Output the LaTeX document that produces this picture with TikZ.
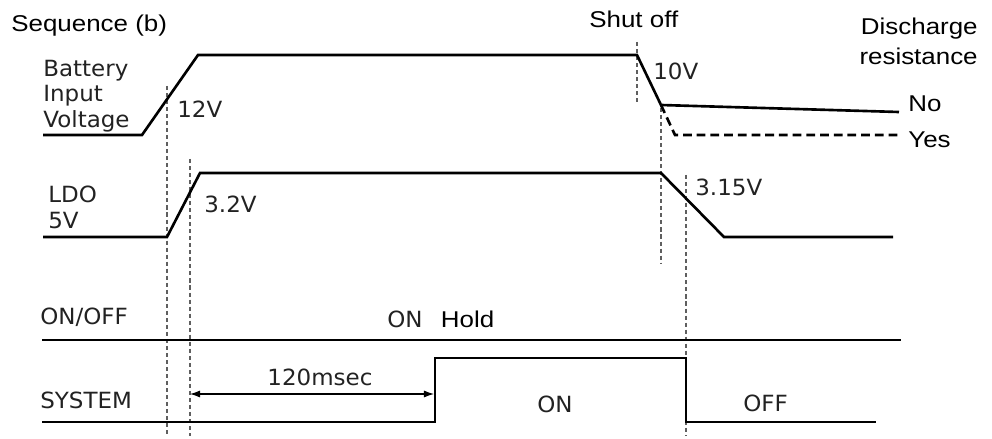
\documentclass[tikz,border=0pt]{standalone}
\usepackage{fontspec}
\usepackage{xcolor}
\usepackage{tikz}
\usetikzlibrary{arrows.meta, positioning, calc}
\newfontfamily\meterfont[FakeStretch=1.03]{DejaVu Sans}
\newfontfamily\notefont[FakeStretch=1.135]{Liberation Sans}
\definecolor{signal}{RGB}{0, 0, 0}
\definecolor{labeltext}{RGB}{34, 34, 34}
\definecolor{guide}{RGB}{95, 95, 95}
\tikzset{
  siglabel/.style={
    inner sep=0pt, text=labeltext, align=left,
    font=\meterfont\fontsize{12.7}{14.4}\selectfont
  },
  notelabel/.style={
    inner sep=0pt, text=black,
    font=\notefont\fontsize{13}{17}\selectfont
  },
  sigline/.style={draw=signal, line width=1.5pt, line join=miter},
  yesline/.style={sigline, dash pattern=on 5pt off 2.8pt},
  guideline/.style={draw=guide, line width=0.8pt, dash pattern=on 2.3pt off 1.7pt},
  spanline/.style={
    draw=black, line width=0.6pt,
    {Latex[length=5.7pt, width=4pt]}-{Latex[length=5.7pt, width=4pt]}
  }
}

\begin{document}
\begin{tikzpicture}[x=0.02cm, y=-0.02cm]

  \useasboundingbox (0,0) rectangle (992,439);

  % Titles
  \node[notelabel, anchor=base west] (seqtitle) at (11,32) {Sequence (b)};
  \node[notelabel, anchor=base west] (shutoff) at (589,28) {Shut off};
  \node[notelabel, anchor=north east, align=right] (discharge) at (978,18) {Discharge\\resistance};

  % Timing guides
  \foreach \gx/\gt/\gb in {167/86/436, 190/159/436, 637/42/102, 661/108/263, 686/175/436}
    \draw[guideline] (\gx,\gt) -- (\gx,\gb);

  % Battery input voltage
  \node[siglabel, anchor=north west] (batlbl) at (43,60) {Battery\\Input\\Voltage};
  \coordinate (bat0) at (43,135);
  \coordinate (batrise) at (142,135);
  \coordinate (battop) at (198,55);
  \coordinate (batoff) at (637,55);
  \coordinate (batknee) at (661,105);
  \coordinate (batno) at (899,112);
  \coordinate (batyesknee) at (675,135);
  \coordinate (batyes) at (899,135);
  \draw[sigline] (bat0) -- (batrise) -- (battop) -- (batoff) -- (batknee) -- (batno);
  \draw[yesline] (batknee) -- (batyesknee) -- (batyes);
  \node[siglabel, anchor=base west] (v12) at (177,118) {12V};
  \node[siglabel, anchor=base west] (v10) at (653,80) {10V};
  \node[notelabel, anchor=base west] (nolbl) at (908,112) {No};
  \node[notelabel, anchor=base west] (yeslbl) at (908,148) {Yes};

  % LDO 5V
  \node[siglabel, anchor=north west] (ldolbl) at (48,186) {LDO\\5V};
  \coordinate (ldo0) at (43,237);
  \coordinate (ldorise) at (167,237);
  \coordinate (ldotop) at (200,173);
  \coordinate (ldooff) at (661,173);
  \coordinate (ldolow) at (724,237);
  \coordinate (ldoend) at (893,237);
  \draw[sigline] (ldo0) -- (ldorise) -- (ldotop) -- (ldooff) -- (ldolow) -- (ldoend);
  \node[siglabel, anchor=base west] (v32) at (204,213) {3.2V};
  \node[siglabel, anchor=base west] (v315) at (695,196) {3.15V};

  % ON/OFF
  \node[siglabel, anchor=base west] (onofflbl) at (40,325) {ON/OFF};
  \coordinate (onoff0) at (42,340);
  \coordinate (onoffend) at (901,340);
  \draw[sigline] (onoff0) -- (onoffend);
  \node[siglabel, anchor=base west] (onhold) at (387,328) {ON};
  \node[notelabel, right=10pt of onhold.base east, anchor=base west] (hold) {Hold};

  % SYSTEM
  \node[siglabel, anchor=base west] (syslbl) at (40,408) {SYSTEM};
  \coordinate (sys0) at (42,422);
  \coordinate (sysup) at (435,422);
  \coordinate (syshigh) at (435,358);
  \coordinate (sysoff) at (686,358);
  \coordinate (sysdown) at (686,422);
  \coordinate (sysend) at (876,422);
  \draw[sigline] (sys0) -- (sysup) -- (syshigh) -- (sysoff) -- (sysdown) -- (sysend);
  \node[siglabel, anchor=base west] (syson) at (537,413) {ON};
  \node[siglabel, anchor=base west] (sysoffl) at (743,412) {OFF};

  % 120msec span
  \coordinate (spanl) at (190,394);
  \coordinate (spanr) at (434,394);
  \draw[spanline] (spanl) -- (spanr);
  \node[siglabel, anchor=base] (delay) at ($(spanl)!0.5!(spanr)+(8,-9)$) {120msec};

\end{tikzpicture}
\end{document}
